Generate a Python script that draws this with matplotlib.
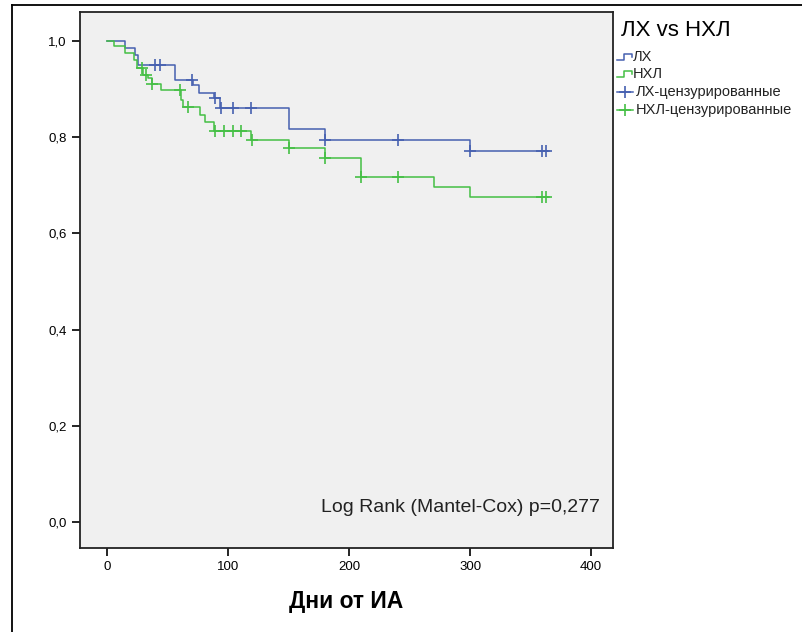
"""Кривые выживаемости ЛХ и НХЛ (Каплан-Мейер)."""

import numpy as np
import matplotlib
matplotlib.use("Agg")
import matplotlib.pyplot as plt
from matplotlib.lines import Line2D

# ЛХ: дни событий и доля выживших после каждого шага
lh_days = [0, 15, 23, 26, 56, 71, 76, 88, 93, 150, 180, 300]
lh_surv = [1.0, 0.986, 0.970, 0.950, 0.919, 0.909, 0.891, 0.881, 0.860,
           0.817, 0.794, 0.772]
lh_censored = [40, 44, 70, 89, 94, 104, 119, 180, 240, 300, 359, 363]

# НХЛ
nhl_days = [0, 6, 15, 22, 25, 30, 34, 37, 45, 61, 63, 77, 81, 88, 119,
            150, 180, 210, 270, 300]
nhl_surv = [1.0, 0.989, 0.974, 0.960, 0.943, 0.930, 0.922, 0.910, 0.898,
            0.877, 0.863, 0.846, 0.832, 0.813, 0.794, 0.777, 0.756, 0.717,
            0.696, 0.675]
nhl_censored = [29, 32, 37, 60, 67, 89, 97, 104, 111, 120, 150, 180, 210,
                240, 359, 363]

follow_up_end = 365
x_ticks = [0, 100, 200, 300, 400]
y_ticks = [0.0, 0.2, 0.4, 0.6, 0.8, 1.0]
y_tick_labels = ["0,0", "0,2", "0,4", "0,6", "0,8", "1,0"]
test_label = "Log Rank (Mantel-Cox) p=0,277"

BLUE = "#4660b0"
GREEN = "#45bf45"
W, H = 803, 632

plt.rcParams["font.family"] = ["Liberation Sans", "DejaVu Sans"]


def px(x, y):
    """Пиксели картинки -> доли фигуры."""
    return x / W, 1 - y / H


def surv_at(days, surv, t):
    idx = np.searchsorted(days, t, side="right") - 1
    return np.asarray(surv)[idx]


fig = plt.figure(figsize=(W / 100, H / 100), dpi=100)
ax = fig.add_axes([80 / W, 1 - 548 / H, 533 / W, 536 / H])
ax.set_facecolor("#f0f0f0")

for days, surv, cens, color in [
    (lh_days, lh_surv, lh_censored, BLUE),
    (nhl_days, nhl_surv, nhl_censored, GREEN),
]:
    ax.step(days + [follow_up_end], surv + [surv[-1]], where="post",
            color=color, lw=1.1)
    ax.plot(cens, surv_at(days, surv, cens), ls="none", marker="+",
            ms=8, mew=1.2, color=color)

ax.set_xlim(-22.3, 418)
ax.set_ylim(-0.054, 1.06)
ax.set_xticks(x_ticks)
ax.set_yticks(y_ticks)
ax.set_yticklabels(y_tick_labels)
ax.tick_params(labelsize=9.5, length=6, width=1.2, direction="out")
for sp in ax.spines.values():
    sp.set_linewidth(1.3)
    sp.set_color("#222222")

ax.set_xlabel("Дни от ИА", fontsize=16.5, fontweight="bold", labelpad=12)
ax.text(0.975, 0.075, test_label, transform=ax.transAxes,
        ha="right", va="center", fontsize=14, color="#222222")

# Рамка вокруг всей картинки
fig.add_artist(Line2D(*zip(px(12, 5), px(12, H)), color="black", lw=1.3))
fig.add_artist(Line2D(*zip(px(12, 5), px(W, 5)), color="black", lw=1.3))

# Легенда, нарисованная вручную
fig.text(*px(621, 30), "ЛХ vs НХЛ", fontsize=16, va="center", ha="left")
rows = [("ЛХ", BLUE, 57, False), ("НХЛ", GREEN, 74, False),
        ("ЛХ-цензурированные", BLUE, 92, True),
        ("НХЛ-цензурированные", GREEN, 110, True)]
for label, color, y, censored in rows:
    if censored:
        xs = [617, 633]
        ys = [y, y]
        fig.add_artist(Line2D(*zip(*[px(a, b) for a, b in zip(xs, ys)]),
                              color=color, lw=1.1))
        fig.add_artist(Line2D(*zip(px(625, y)), marker="+", ms=8, mew=1.2,
                              color=color))
        tx = 636
    else:
        pts = [(617, y + 3), (624, y + 3), (624, y - 3), (632, y - 3),
               (632, y)]
        fig.add_artist(Line2D(*zip(*[px(a, b) for a, b in pts]),
                              color=color, lw=1.1))
        tx = 633
    fig.text(*px(tx, y), label, fontsize=10.5, va="center", ha="left",
             color="#222222")

fig.savefig("out.png", dpi=100)
